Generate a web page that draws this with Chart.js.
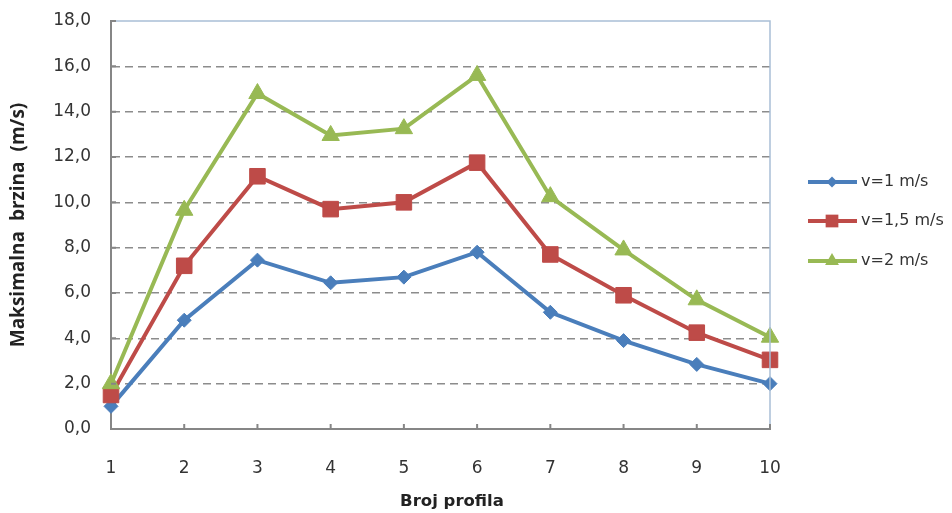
<!DOCTYPE html>
<html>
<head>
<meta charset="utf-8">
<script src="https://cdn.jsdelivr.net/npm/chart.js@4"></script>
<style>
  body { margin: 0; background: #fff; }
  canvas { display: block; }
</style>
</head>
<body>
<canvas id="chart" width="952" height="513"></canvas>
<script>
const profiles = ["1", "2", "3", "4", "5", "6", "7", "8", "9", "10"];
const seriesNames = ["v=1 m/s", "v=1,5 m/s", "v=2 m/s"];
const v1 = [1.0, 4.8, 7.45, 6.45, 6.7, 7.8, 5.15, 3.9, 2.85, 2.0];
const v15 = [1.5, 7.2, 11.15, 9.7, 10.0, 11.75, 7.7, 5.9, 4.25, 3.05];
const v2 = [2.0, 9.65, 14.8, 12.95, 13.25, 15.6, 10.25, 7.9, 5.7, 4.05];
const yTitle = "Maksimalna  brzina  (m/s)";
const xTitle = "Broj profila";

const colors = ["#4a7ebb", "#be4b48", "#98b954"];
const markers = ["rectRot", "rect", "triangle"];
const radii = [7, 11, 10];
const legendRadii = [5.5, 9, 8];

const FONT = "'DejaVu Sans', sans-serif";

// top/right frame, inner tick marks, x title and legend
const extras = {
    id: "extras",
    afterDraw(chart) {
        const c = chart.ctx;
        const a = chart.chartArea;
        const xs = chart.scales.x;
        const ys = chart.scales.y;

        c.save();
        c.strokeStyle = "#a9bfd6";
        c.lineWidth = 1.5;
        c.beginPath();
        c.moveTo(a.left, a.top);
        c.lineTo(a.right, a.top);
        c.lineTo(a.right, a.bottom);
        c.stroke();

        c.strokeStyle = "#868686";
        c.lineWidth = 2;
        c.beginPath();
        for (let i = 1; i < profiles.length; i++) {
            const px = xs.getPixelForTick(i);
            c.moveTo(px, a.bottom);
            c.lineTo(px, a.bottom - 5);
        }
        ys.ticks.forEach((t, i) => {
            const py = ys.getPixelForTick(i);
            c.moveTo(a.left, py);
            c.lineTo(a.left + 5, py);
        });
        c.stroke();

        c.fillStyle = "#222";
        c.font = "bold 16.5px " + FONT;
        c.textAlign = "center";
        c.textBaseline = "middle";
        c.fillText(xTitle, 452, 502);

        // legend
        const ly = [182, 221, 261];
        chart.data.datasets.forEach((ds, i) => {
            c.strokeStyle = ds.borderColor;
            c.lineWidth = 4;
            c.beginPath();
            c.moveTo(808, ly[i]);
            c.lineTo(857, ly[i]);
            c.stroke();
            c.fillStyle = ds.borderColor;
            c.beginPath();
            Chart.helpers.drawPoint(c, {
                pointStyle: markers[i],
                radius: legendRadii[i],
                borderWidth: 0
            }, 832, ly[i]);
            c.fillStyle = "#333";
            c.font = "16px " + FONT;
            c.textAlign = "left";
            c.fillText(ds.label, 861, ly[i]);
        });
        c.restore();
    }
};

function makeSet(label, data, i, order) {
    return {
        label: label,
        data: data,
        borderColor: colors[i],
        backgroundColor: colors[i],
        borderWidth: 4,
        pointStyle: markers[i],
        pointRadius: radii[i],
        pointHoverRadius: radii[i],
        pointBorderWidth: 1,
        pointBackgroundColor: colors[i],
        pointBorderColor: colors[i],
        tension: 0,
        order: order
    };
}

const ctx = document.getElementById("chart").getContext("2d");
const chart = new Chart(ctx, {
    type: "line",
    data: {
        labels: profiles,
        datasets: [
            makeSet(seriesNames[0], v1, 0, 3),
            makeSet(seriesNames[1], v15, 1, 2),
            makeSet(seriesNames[2], v2, 2, 1)
        ]
    },
    options: {
        responsive: false,
        devicePixelRatio: 1,
        animation: false,
        layout: { padding: { top: 21, right: 182, left: 0, bottom: 0 } },
        plugins: {
            legend: { display: false },
            tooltip: { enabled: false }
        },
        scales: {
            x: {
                offset: false,
                grid: { display: false, drawTicks: false },
                border: { color: "#868686", width: 2 },
                ticks: {
                    padding: 29,
                    color: "#333",
                    font: { family: FONT, size: 17 },
                    maxRotation: 0
                },
                afterFit(scale) { scale.height = 84; }
            },
            y: {
                min: 0,
                max: 18,
                grid: {
                    drawTicks: false,
                    color: (c) => (c.tick && (c.tick.value === 0 || c.tick.value === 18)) ? "rgba(0,0,0,0)" : "#8c8c8c",
                    lineWidth: 1.5
                },
                border: { color: "#868686", width: 2, dash: [8, 5] },
                ticks: {
                    stepSize: 2,
                    padding: 20,
                    color: "#333",
                    font: { family: FONT, size: 17 },
                    callback: (v) => v.toFixed(1).replace(".", ",")
                },
                title: {
                    display: true,
                    text: yTitle,
                    color: "#222",
                    font: { family: "'Open Sans', sans-serif", size: 19, weight: "bold" },
                    padding: { top: 7, bottom: 0 }
                },
                afterFit(scale) {
                    scale.width = 111;
                    scale.paddingTop = 0;
                    scale.paddingBottom = 0;
                }
            }
        }
    },
    plugins: [extras]
});
</script>
</body>
</html>
